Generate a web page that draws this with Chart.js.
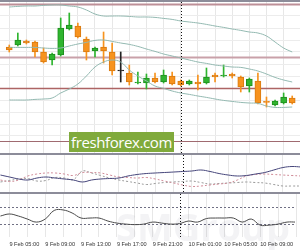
<!DOCTYPE html>
<html>
<head>
<meta charset="utf-8">
<script src="https://cdn.jsdelivr.net/npm/chart.js@4"></script>
<style>
  html, body { margin: 0; padding: 0; background: #fff; }
  #wrap { position: relative; width: 300px; height: 250px; overflow: hidden; background: #fff; }
  #wrap canvas { position: absolute; left: 0; }
  .sep { position: absolute; left: 0; width: 300px; background: #8c8c99; }
  #logo { position: absolute; left: 69px; top: 132px; width: 105px; height: 20px; background: #80aa3c;
          color: #fff; font: 15px "Open Sans"; line-height: 20px; text-align: center; letter-spacing: -0.4px; }
  #mark { position: absolute; left: 116px; top: 200px; font: bold 38px "Open Sans"; color: rgba(90, 90, 110, 0.07); }
</style>
</head>
<body>
<div id="wrap">
  <div class="sep" style="top:0;height:2px"></div>
  <canvas id="main" width="300" height="151" style="top:2px"></canvas>
  <div class="sep" style="top:153px;height:2px"></div>
  <canvas id="adx" width="300" height="37" style="top:155px"></canvas>
  <div class="sep" style="top:192px;height:2px"></div>
  <canvas id="rsi" width="300" height="56" style="top:194px"></canvas>
  <div id="mark">SMGroup</div>
  <div id="logo">freshforex.com</div>
</div>
<script>
// hourly bars, 9 Feb 04:00 -> 10 Feb 13:00
const hours = [
  "9 Feb 04:00", "9 Feb 05:00", "9 Feb 06:00", "9 Feb 07:00", "9 Feb 08:00", "9 Feb 09:00",
  "9 Feb 10:00", "9 Feb 11:00", "9 Feb 12:00", "9 Feb 13:00", "9 Feb 14:00", "9 Feb 15:00",
  "9 Feb 16:00", "9 Feb 17:00", "9 Feb 18:00", "9 Feb 19:00", "9 Feb 20:00", "9 Feb 21:00",
  "9 Feb 22:00", "9 Feb 23:00", "10 Feb 00:00", "10 Feb 01:00", "10 Feb 02:00", "10 Feb 03:00",
  "10 Feb 04:00", "10 Feb 05:00", "10 Feb 06:00", "10 Feb 07:00", "10 Feb 08:00", "10 Feb 09:00",
  "10 Feb 10:00", "10 Feb 11:00", "10 Feb 12:00", "10 Feb 13:00"
];
const tickLabels = [
  "9 Feb 05:00", "9 Feb 09:00", "9 Feb 13:00", "9 Feb 17:00",
  "9 Feb 21:00", "10 Feb 01:00", "10 Feb 05:00", "10 Feb 09:00"
];
const daySeparator = "10 Feb 00:00";

const open = [
  1.14265, 1.14275, 1.14295, 1.14290, 1.14240, 1.14200, 1.14225, 1.14355, 1.14370, 1.14305,
  1.14245, 1.14265, 1.14240, 1.14145, 1.14135, 1.14085, 1.14085, 1.14110, 1.14090, 1.14120,
  1.14095, 1.14080, 1.14090, 1.14085, 1.14125, 1.14120, 1.14130, 1.14115, 1.14070, 1.14095,
  1.13993, 1.13975, 1.13985, 1.14010
];
const high = [
  1.14275, 1.14335, 1.14300, 1.14295, 1.14260, 1.14235, 1.14410, 1.14435, 1.14385, 1.14315,
  1.14265, 1.14340, 1.14285, 1.14240, 1.14175, 1.14140, 1.14130, 1.14135, 1.14150, 1.14140,
  1.14100, 1.14100, 1.14125, 1.14160, 1.14135, 1.14175, 1.14135, 1.14120, 1.14110, 1.14135,
  1.14015, 1.14000, 1.14035, 1.14020
];
const low = [
  1.14240, 1.14270, 1.14280, 1.14215, 1.14185, 1.14175, 1.14220, 1.14350, 1.14310, 1.14200,
  1.14215, 1.14185, 1.14125, 1.14090, 1.14075, 1.14080, 1.14055, 1.14085, 1.14085, 1.14075,
  1.14070, 1.14075, 1.14050, 1.14080, 1.14090, 1.14115, 1.14110, 1.14040, 1.14040, 1.13980,
  1.13965, 1.13970, 1.13980, 1.13980
];
const close = [
  1.14250, 1.14300, 1.14285, 1.14240, 1.14190, 1.14230, 1.14360, 1.14375, 1.14315, 1.14240,
  1.14260, 1.14245, 1.14145, 1.14145, 1.14090, 1.14090, 1.14110, 1.14090, 1.14125, 1.14080,
  1.14075, 1.14095, 1.14080, 1.14115, 1.14115, 1.14125, 1.14120, 1.14065, 1.14105, 1.13985,
  1.13988, 1.13995, 1.14015, 1.13985
];

// bollinger bands
const bbUpper = [
  1.14465, 1.14468, 1.14470, 1.14470, 1.14473, 1.14475, 1.14475, 1.14470, 1.14465, 1.14450,
  1.14430, 1.14420, 1.14420, 1.14420, 1.14418, 1.14415, 1.14415, 1.14413, 1.14408, 1.14403,
  1.14395, 1.14390, 1.14385, 1.14378, 1.14370, 1.14363, 1.14355, 1.14348, 1.14340, 1.14335,
  1.14320, 1.14290, 1.14260, 1.14240
];
const bbMiddle = [
  1.14263, 1.14263, 1.14263, 1.14263, 1.14260, 1.14258, 1.14260, 1.14270, 1.14280, 1.14288,
  1.14298, 1.14300, 1.14293, 1.14285, 1.14278, 1.14268, 1.14255, 1.14243, 1.14230, 1.14220,
  1.14210, 1.14200, 1.14190, 1.14183, 1.14175, 1.14170, 1.14165, 1.14163, 1.14155, 1.14145,
  1.14130, 1.14113, 1.14100, 1.14090
];
const bbLower = [
  1.14000, 1.14000, 1.14000, 1.14003, 1.14005, 1.14010, 1.14035, 1.14055, 1.14080, 1.14120,
  1.14165, 1.14190, 1.14200, 1.14190, 1.14150, 1.14120, 1.14095, 1.14070, 1.14058, 1.14045,
  1.14035, 1.14028, 1.14020, 1.14013, 1.14005, 1.13998, 1.13993, 1.13988, 1.13985, 1.13983,
  1.13970, 1.13963, 1.13963, 1.13965
];

// horizontal support / resistance lines
const priceLevels = [1.14480, 1.14215, 1.14060, 1.13795];

// ADX panel
const adx = [
  28.3, 25.0, 21.7, 20.0, 23.3, 25.0, 23.3, 21.7, 20.0, 16.7,
  20.0, 21.7, 22.5, 23.3, 26.7, 29.2, 30.8, 31.7, 32.5, 33.3,
  34.2, 35.0, 36.7, 34.2, 30.8, 28.3, 26.7, 27.5, 30.0, 32.5,
  36.7, 40.8, 42.5, 41.7
];
const diPlus = [
  20.0, 17.5, 20.0, 26.7, 30.0, 31.7, 31.7, 30.0, 27.5, 32.5,
  32.5, 31.7, 28.3, 25.0, 24.2, 23.3, 24.2, 21.7, 18.3, 15.0,
  11.7, 9.2, 10.0, 11.7, 13.3, 15.0, 20.0, 26.7, 29.2, 30.0,
  29.2, 28.3, 27.5, 26.7
];
const diMinus = [
  16.7, 19.2, 21.7, 22.5, 18.3, 19.2, 24.2, 23.3, 20.8, 35.0,
  31.7, 27.5, 23.3, 20.0, 17.5, 15.0, 12.5, 14.2, 15.8, 16.7,
  17.5, 18.3, 15.8, 13.3, 14.2, 15.0, 15.8, 16.7, 15.8, 15.0,
  12.5, 10.0, 10.0, 10.0
];

// RSI panel
const rsi = [
  48.8, 53.5, 48.8, 41.8, 34.7, 41.8, 61.8, 62.9, 55.9, 44.1,
  44.1, 44.1, 37.1, 32.4, 30.0, 28.8, 30.0, 34.7, 32.4, 30.0,
  31.2, 37.1, 34.7, 42.9, 44.1, 44.1, 44.1, 34.7, 41.8, 27.6,
  27.6, 30.0, 34.7, 34.7
];
const rsiLevels = [70, 30];

const idx = hours.map((h, i) => i);
const sepIndex = hours.indexOf(daySeparator);

const GREEN = "#2fb52f", GREEN_D = "#1f8f1f";
const ORANGE = "#f7931e", ORANGE_D = "#d97a12";
const DOJI = "#222";
const candleFill = idx.map((i) => close[i] > open[i] ? GREEN : close[i] < open[i] ? ORANGE : DOJI);
const candleEdge = idx.map((i) => close[i] > open[i] ? GREEN_D : close[i] < open[i] ? ORANGE_D : DOJI);

function xAxis(labels) {
  return {
    type: "linear",
    min: -0.05,
    max: 32.88,
    afterBuildTicks: (s) => {
      s.ticks = idx.filter((i) => i % 2 === 1).map((v) => ({ value: v }));
    },
    afterFit: labels ? (s) => { s.height = 13; } : undefined,
    grid: { color: "#e7e7e7", drawTicks: false },
    border: { display: false },
    ticks: {
      display: labels,
      autoSkip: false,
      maxRotation: 0,
      align: "start",
      padding: 4,
      color: "#333",
      font: { size: 5.6, family: '"Liberation Sans", Arial' },
      callback: (v) => tickLabels.includes(hours[v]) ? hours[v] : "",
    },
  };
}

// dotted day separator + horizontal level lines
const overlay = {
  id: "overlay",
  beforeDatasetsDraw(chart, args, opts) {
    const { ctx, chartArea: a, scales: { y } } = chart;
    (opts.levels || []).forEach((v, k) => {
      const py = Math.round(y.getPixelForValue(v)) + 0.5;
      ctx.save();
      ctx.strokeStyle = opts.colors[k];
      ctx.lineWidth = opts.widths[k];
      ctx.setLineDash(opts.dash || []);
      ctx.beginPath();
      ctx.moveTo(a.left, py);
      ctx.lineTo(a.right, py);
      ctx.stroke();
      ctx.restore();
    });
  },
  afterDatasetsDraw(chart) {
    const { ctx, chartArea: a, scales: { x } } = chart;
    const px = Math.round(x.getPixelForValue(sepIndex)) + 0.5;
    ctx.save();
    ctx.strokeStyle = "#111";
    ctx.lineWidth = 1;
    ctx.setLineDash([1, 2]);
    ctx.beginPath();
    ctx.moveTo(px, a.top);
    ctx.lineTo(px, a.bottom);
    ctx.stroke();
    ctx.restore();
  },
};

const base = {
  responsive: false,
  animation: false,
  events: [],
  layout: { padding: 0, autoPadding: false },
  plugins: { legend: { display: false }, tooltip: { enabled: false } },
};

function band(data) {
  return {
    type: "line",
    data: idx.map((i) => ({ x: i, y: data[i] })),
    borderColor: "#93b9b1",
    borderWidth: 1,
    pointRadius: 0,
    tension: 0.4,
    order: 0,
  };
}

new Chart(document.getElementById("main"), {
  type: "bar",
  data: {
    datasets: [
      {
        data: idx.map((i) => ({ x: i, y: [low[i], high[i]] })),
        backgroundColor: candleFill,
        barThickness: 1,
        grouped: false,
        order: 2,
      },
      {
        data: idx.map((i) => ({ x: i, y: [open[i], close[i]] })),
        backgroundColor: candleFill,
        borderColor: candleEdge,
        borderWidth: 1,
        borderSkipped: false,
        barThickness: 6,
        minBarLength: 1,
        grouped: false,
        order: 1,
      },
      band(bbUpper),
      band(bbMiddle),
      band(bbLower),
    ],
  },
  options: {
    ...base,
    scales: {
      x: xAxis(false),
      y: {
        min: 1.13735,
        max: 1.14490,
        afterBuildTicks: (s) => {
          s.ticks = s.ticks.filter((t) => t.value > s.min + 1e-7 && t.value < s.max - 1e-7);
        },
        ticks: { display: false, stepSize: 0.0006 },
        grid: { color: "#ececec", drawTicks: false },
        border: { display: false },
      },
    },
    plugins: {
      ...base.plugins,
      overlay: {
        levels: priceLevels,
        colors: ["#bd8f97", "#c9a1a9", "#ad6464", "#a06a70"],
        widths: [2, 2, 1.5, 1],
      },
    },
  },
  plugins: [overlay],
});

new Chart(document.getElementById("adx"), {
  type: "line",
  data: {
    datasets: [
      { data: idx.map((i) => ({ x: i, y: adx[i] })), borderColor: "#45457a", borderWidth: 1, pointRadius: 0, tension: 0.4 },
      { data: idx.map((i) => ({ x: i, y: diPlus[i] })), borderColor: "#d08c98", borderWidth: 1, borderDash: [2, 2], pointRadius: 0, tension: 0.4 },
      { data: idx.map((i) => ({ x: i, y: diMinus[i] })), borderColor: "#9a9a9a", borderWidth: 1, borderDash: [2, 2], pointRadius: 0, tension: 0.4 },
    ],
  },
  options: {
    ...base,
    scales: {
      x: xAxis(false),
      y: { min: 0, max: 61.7, display: false },
    },
    plugins: { ...base.plugins, overlay: { levels: [] } },
  },
  plugins: [overlay],
});

new Chart(document.getElementById("rsi"), {
  type: "line",
  data: {
    datasets: [
      { data: idx.map((i) => ({ x: i, y: rsi[i] })), borderColor: "#4a4a4a", borderWidth: 1, pointRadius: 0, tension: 0.4 },
    ],
  },
  options: {
    ...base,
    scales: {
      x: xAxis(true),
      y: { min: 0, max: 100, display: false },
    },
    plugins: {
      ...base.plugins,
      overlay: { levels: rsiLevels, colors: ["#707084", "#707084"], widths: [1, 1], dash: [2, 2] },
    },
  },
  plugins: [overlay],
});
</script>
</body>
</html>
